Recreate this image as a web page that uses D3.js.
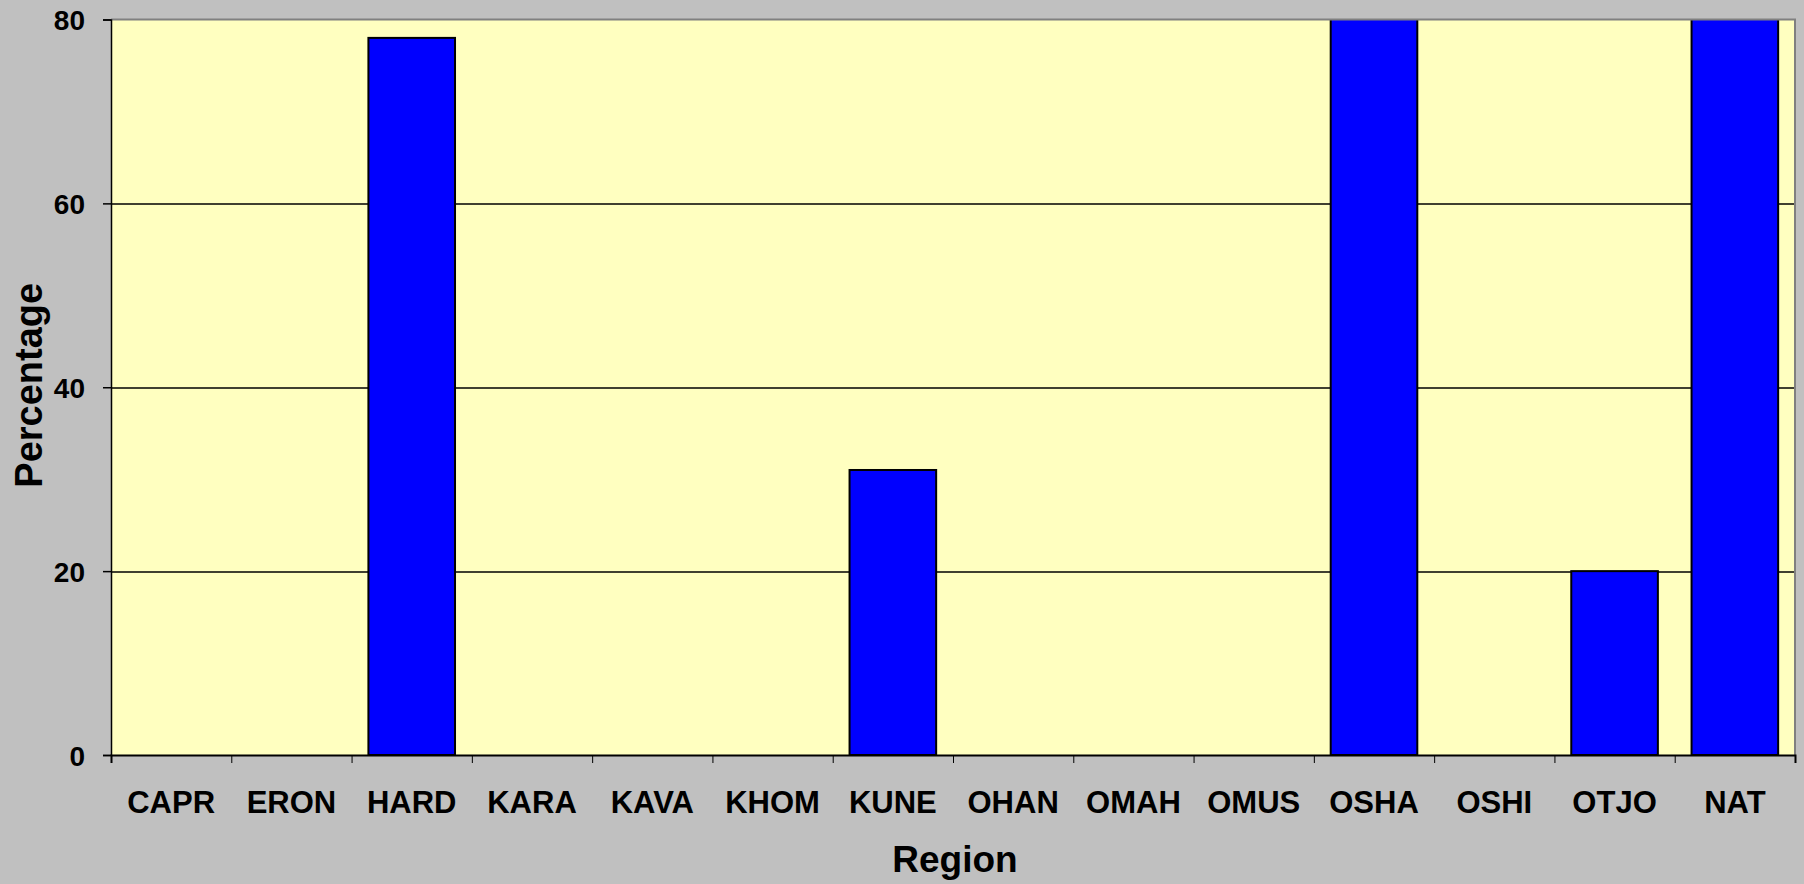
<!DOCTYPE html>
<html>
<head>
<meta charset="utf-8">
<script src="https://cdn.jsdelivr.net/npm/d3@7"></script>
<style>
  html, body { margin: 0; padding: 0; background: #c0c0c0; }
  svg { display: block; }
  text { font-family: "Liberation Sans", Arial, sans-serif; font-weight: bold; fill: #000; }
</style>
</head>
<body>
<svg id="chart" width="1804" height="884"></svg>
<script>
// Regions and their percentages (OSHA and NAT run past the top of the axis)
const regions = ["CAPR", "ERON", "HARD", "KARA", "KAVA", "KHOM", "KUNE",
                 "OHAN", "OMAH", "OMUS", "OSHA", "OSHI", "OTJO", "NAT"];
const percentages = [0, 0, 78, 0, 0, 0, 31, 0, 0, 0, 86, 0, 20, 84];
const yTicks = [0, 20, 40, 60, 80];
const yMax = 80;

const W = 1804, H = 884;
const margin = { top: 19.5, right: 9, bottom: 129, left: 111 };
const iw = W - margin.left - margin.right;
const ih = H - margin.top - margin.bottom;

const svg = d3.select("#chart");
const g = svg.append("g").attr("transform", `translate(${margin.left},${margin.top})`);

const x = d3.scaleBand().domain(regions).range([0, iw]).paddingInner(0.28).paddingOuter(0.14);
const xEdge = d3.scaleLinear().domain([0, regions.length]).range([0, iw]);
const y = d3.scaleLinear().domain([0, yMax]).range([ih, 0]);

// plot area
g.append("rect").attr("width", iw).attr("height", ih).attr("fill", "#ffffc0");

// gridlines
g.append("g")
  .selectAll("line")
  .data(yTicks.filter(t => t > 0 && t < yMax))
  .join("line")
  .attr("x1", 0).attr("x2", iw)
  .attr("y1", d => Math.round(y(d)) + 0.5).attr("y2", d => Math.round(y(d)) + 0.5)
  .attr("stroke", "#000").attr("stroke-width", 1.3);

// bars, clipped to the plot area
svg.append("defs").append("clipPath").attr("id", "plot-clip")
  .append("rect").attr("x", -2).attr("y", 0).attr("width", iw + 4).attr("height", ih + 2);

g.append("g").attr("clip-path", "url(#plot-clip)")
  .selectAll("rect")
  .data(regions.map((r, i) => ({ r, v: percentages[i] })).filter(d => d.v > 0))
  .join("rect")
  .attr("x", d => x(d.r))
  .attr("y", d => y(d.v))
  .attr("width", x.bandwidth())
  .attr("height", d => ih - y(d.v))
  .attr("fill", "#0000ff")
  .attr("stroke", "#000")
  .attr("stroke-width", 2);

// plot frame (top and right edges)
g.append("path")
  .attr("d", `M0,0H${iw}V${ih}`)
  .attr("fill", "none").attr("stroke", "#808080").attr("stroke-width", 2);

// y axis
const yAxis = g.append("g")
  .call(d3.axisLeft(y).tickValues(yTicks).tickSize(8).tickPadding(18).tickFormat(d3.format("d")));
yAxis.select(".domain").attr("stroke", "#000").attr("stroke-width", 1.5);
yAxis.selectAll(".tick line").attr("stroke", "#000").attr("stroke-width", 1.5);
yAxis.selectAll(".tick text")
  .attr("font-size", 28).attr("font-family", "Liberation Sans, Arial, sans-serif")
  .attr("font-weight", "bold").attr("fill", "#000").attr("dy", "0.36em");

// x axis: tick marks on band edges
const xTickAxis = g.append("g").attr("transform", `translate(0,${ih})`)
  .call(d3.axisBottom(xEdge).tickValues(d3.range(regions.length + 1)).tickSize(8).tickFormat(""));
xTickAxis.select(".domain").attr("stroke", "#000").attr("stroke-width", 2);
xTickAxis.selectAll(".tick line").attr("stroke", "#000").attr("stroke-width", 1);

// x axis: category labels
const xLabelAxis = g.append("g").attr("transform", `translate(0,${ih})`)
  .call(d3.axisBottom(x).tickSize(0).tickPadding(36));
xLabelAxis.select(".domain").remove();
xLabelAxis.selectAll(".tick text")
  .attr("font-size", 31).attr("font-family", "Liberation Sans, Arial, sans-serif")
  .attr("font-weight", "bold").attr("fill", "#000");

// axis titles
g.append("text")
  .attr("x", iw / 2 + 2).attr("y", ih + 117)
  .attr("text-anchor", "middle").attr("font-size", 37)
  .text("Region");

svg.append("text")
  .attr("transform", `translate(42,${margin.top + ih / 2 - 2}) rotate(-90)`)
  .attr("text-anchor", "middle").attr("font-size", 38)
  .text("Percentage");
</script>
</body>
</html>
